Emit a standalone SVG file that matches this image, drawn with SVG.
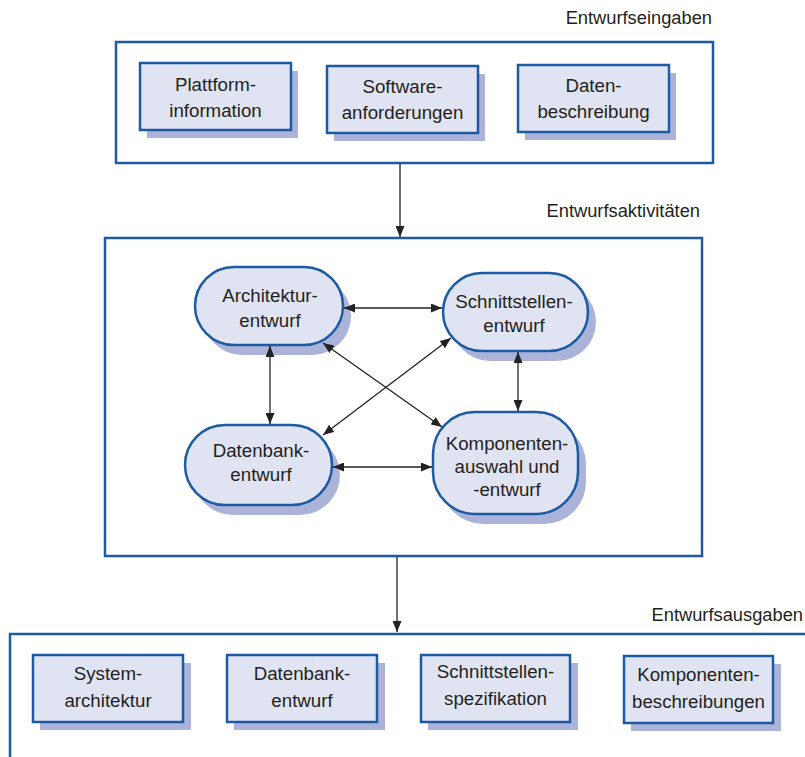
<svg xmlns="http://www.w3.org/2000/svg" width="805" height="757" viewBox="0 0 805 757">
<style>
.cont{fill:#fff;stroke:#1c5ba3;stroke-width:2.5}
.box{fill:#e0e3f1;stroke:#1c5ba3;stroke-width:2.5}
.sh{fill:#abb3d9;stroke:none}
.t{font-family:"Liberation Sans",Arial,sans-serif;font-size:18.7px;fill:#231f20;text-anchor:middle}
.lbl{font-family:"Liberation Sans",Arial,sans-serif;font-size:18.3px;fill:#231f20;text-anchor:end}
.c{stroke:#222;stroke-width:1.3;fill:none}
</style>
<defs>
<marker id="ah" markerUnits="userSpaceOnUse" markerWidth="11" markerHeight="9" refX="11" refY="4.5" orient="auto-start-reverse">
<path d="M0,0 L11,4.5 L0,9 z" fill="#222"/>
</marker>
</defs>

<g id="inputs">
<text class="lbl" x="712" y="24">Entwurfseingaben</text>
<rect class="cont" x="116" y="42" width="597" height="121"/>
</g>
<g id="plattform">
<rect class="sh" x="147" y="71" width="151" height="67"/>
<rect class="box" x="140" y="63" width="151" height="67"/>
<text class="t" x="215.5" y="91">Plattform-</text>
<text class="t" x="215.5" y="117">information</text>
</g>
<g id="software">
<rect class="sh" x="334" y="74" width="151" height="67"/>
<rect class="box" x="327" y="66" width="151" height="67"/>
<text class="t" x="402.5" y="93">Software-</text>
<text class="t" x="402.5" y="119">anforderungen</text>
</g>
<g id="daten">
<rect class="sh" x="525" y="73" width="151" height="67"/>
<rect class="box" x="518" y="65" width="151" height="67"/>
<text class="t" x="593.5" y="92">Daten-</text>
<text class="t" x="593.5" y="118">beschreibung</text>
</g>

<g id="activities">
<text class="lbl" x="700" y="217">Entwurfsaktivitäten</text>
<rect class="cont" x="105" y="238" width="597" height="318"/>
</g>
<g id="architektur">
<rect class="sh" x="203" y="277" width="148" height="78" rx="39"/>
<rect class="box" x="195" y="267" width="148" height="78" rx="39"/>
<text class="t" x="270" y="302">Architektur-</text>
<text class="t" x="270" y="327">entwurf</text>
</g>
<g id="schnittstellen">
<rect class="sh" x="451" y="283" width="145" height="78" rx="39"/>
<rect class="box" x="443" y="273" width="145" height="78" rx="39"/>
<text class="t" x="514" y="308">Schnittstellen-</text>
<text class="t" x="514" y="332">entwurf</text>
</g>
<g id="datenbank">
<rect class="sh" x="193" y="435" width="147" height="80" rx="40"/>
<rect class="box" x="185" y="425" width="147" height="80" rx="40"/>
<text class="t" x="261" y="457">Datenbank-</text>
<text class="t" x="261" y="481">entwurf</text>
</g>
<g id="komponenten">
<rect class="sh" x="441" y="422" width="145" height="102" rx="42"/>
<rect class="box" x="433" y="412" width="145" height="102" rx="42"/>
<text class="t" x="507" y="450">Komponenten-</text>
<text class="t" x="507" y="473">auswahl und</text>
<text class="t" x="507" y="496">-entwurf</text>
</g>

<g id="outputs">
<text class="lbl" x="803" y="621">Entwurfsausgaben</text>
<rect class="cont" x="10" y="634" width="803" height="140"/>
</g>
<g id="systemarchitektur">
<rect class="sh" x="40" y="663" width="151" height="67"/>
<rect class="box" x="33" y="655" width="150" height="67"/>
<text class="t" x="108" y="680">System-</text>
<text class="t" x="108" y="707">architektur</text>
</g>
<g id="datenbankentwurf">
<rect class="sh" x="234" y="663" width="151" height="67"/>
<rect class="box" x="227" y="655" width="150" height="67"/>
<text class="t" x="302" y="680">Datenbank-</text>
<text class="t" x="302" y="707">entwurf</text>
</g>
<g id="schnittstellenspezifikation">
<rect class="sh" x="428" y="663" width="150" height="67"/>
<rect class="box" x="421" y="655" width="149" height="67"/>
<text class="t" x="495.5" y="678">Schnittstellen-</text>
<text class="t" x="495.5" y="705">spezifikation</text>
</g>
<g id="komponentenbeschreibungen">
<rect class="sh" x="631" y="664" width="150" height="67"/>
<rect class="box" x="624" y="656" width="149" height="67"/>
<text class="t" x="698.5" y="681">Komponenten-</text>
<text class="t" x="698.5" y="708">beschreibungen</text>
</g>

<g id="connectors">
<line class="c" x1="400" y1="164" x2="400" y2="237" marker-end="url(#ah)"/>
<line class="c" x1="397" y1="557" x2="397" y2="632" marker-end="url(#ah)"/>
<line class="c" x1="344" y1="308" x2="442" y2="308" marker-start="url(#ah)" marker-end="url(#ah)"/>
<line class="c" x1="270" y1="346" x2="270" y2="424" marker-start="url(#ah)" marker-end="url(#ah)"/>
<line class="c" x1="518" y1="352" x2="518" y2="411" marker-start="url(#ah)" marker-end="url(#ah)"/>
<line class="c" x1="333" y1="467" x2="432" y2="467" marker-start="url(#ah)" marker-end="url(#ah)"/>
<line class="c" x1="323" y1="343" x2="442" y2="427" marker-start="url(#ah)" marker-end="url(#ah)"/>
<line class="c" x1="451" y1="338" x2="323" y2="435" marker-start="url(#ah)" marker-end="url(#ah)"/>
</g>
</svg>
